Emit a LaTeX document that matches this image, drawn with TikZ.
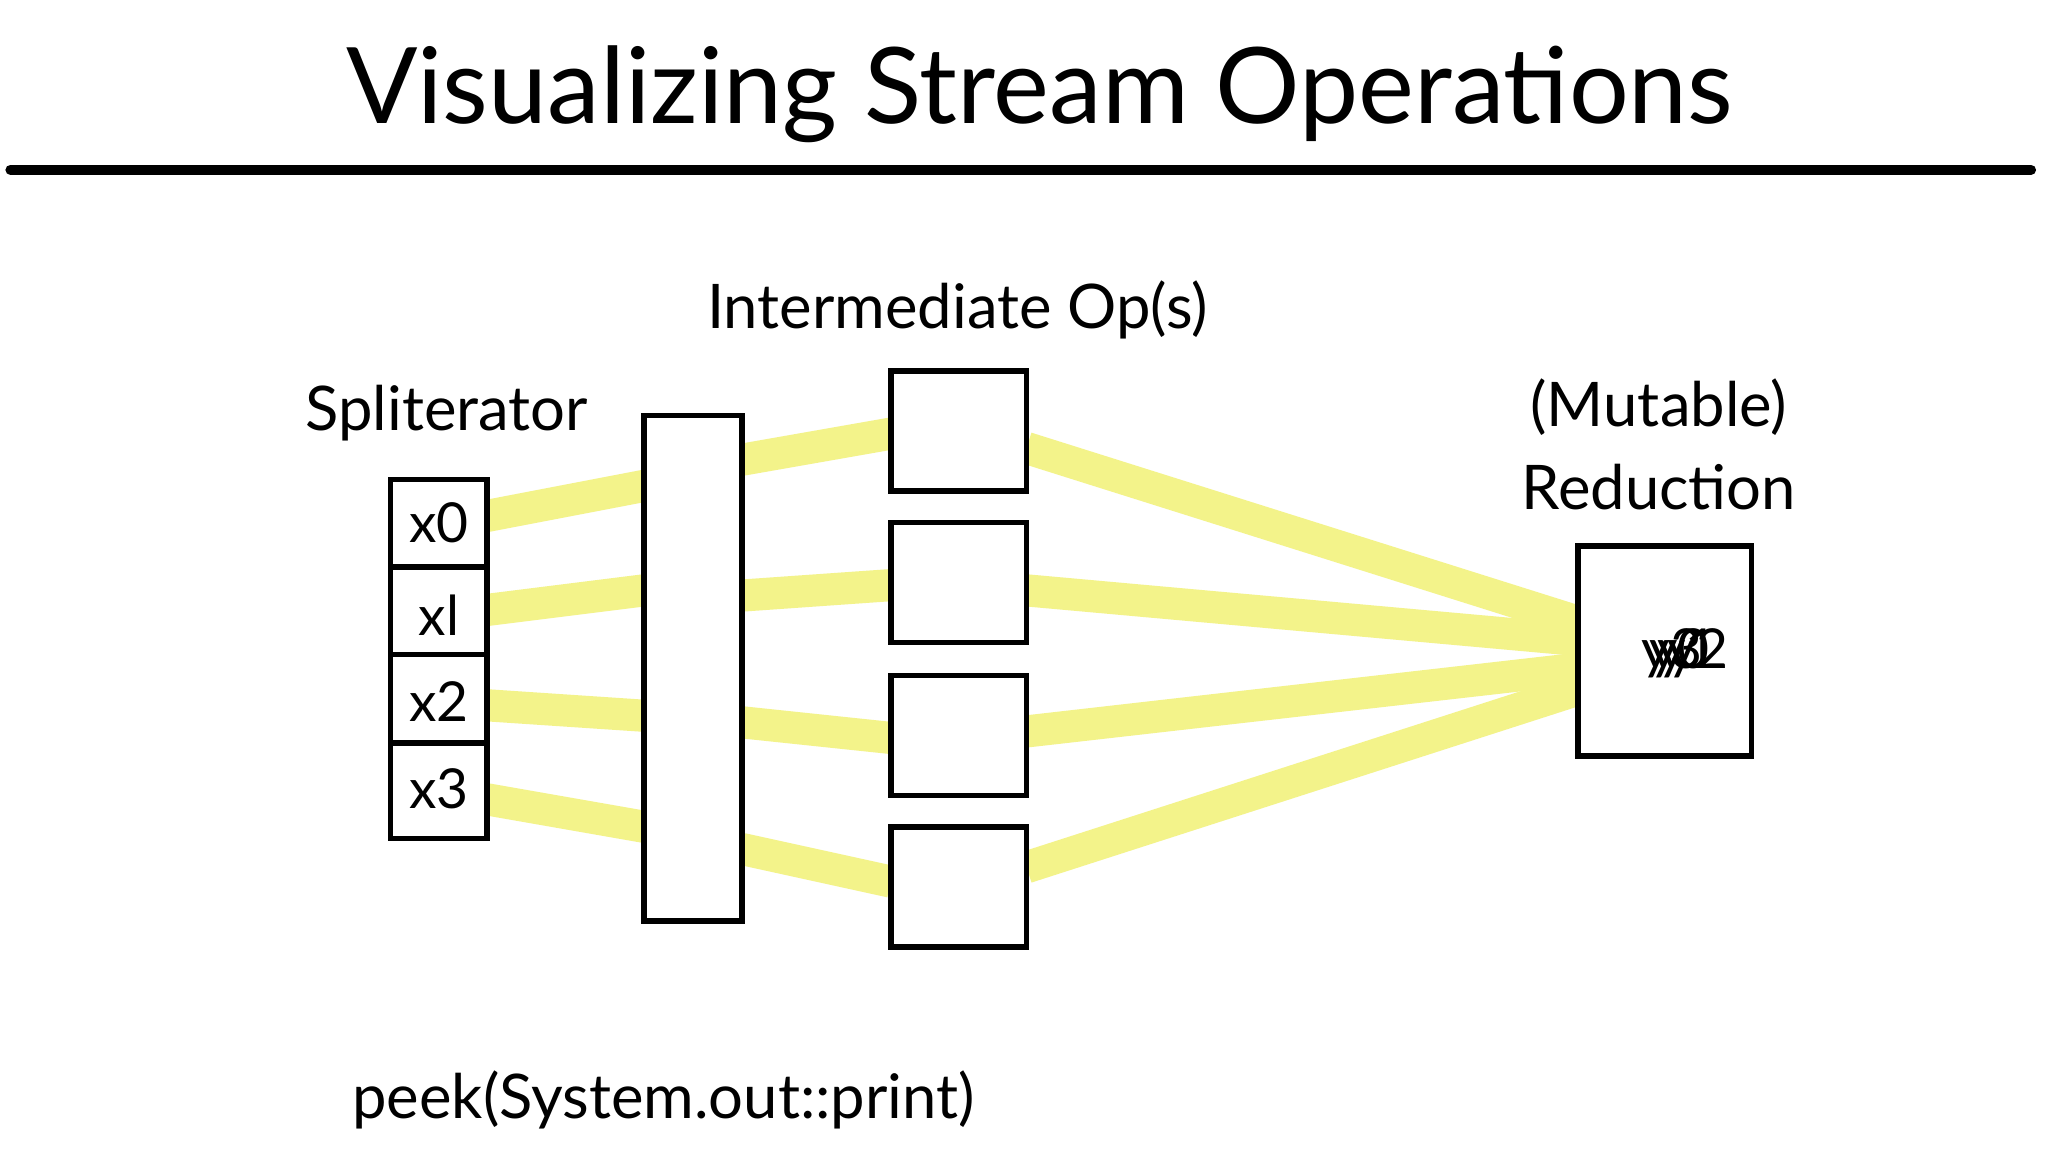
\documentclass[tikz,border=0pt]{standalone}
\usepackage{fontspec}
\setmainfont{Lato}
\definecolor{band}{HTML}{F3F38A}
\begin{document}
\begin{tikzpicture}[x=0.01cm,y=-0.01cm,
  bnd/.style={band,line width=7pt},
  lbl/.style={inner sep=0pt,font=\fontsize{13.4}{16}\selectfont},
  cell/.style={inner sep=0pt,font=\fontsize{12}{14}\selectfont}]
\useasboundingbox[fill=white] (0,0) rectangle (1568,882);
\node[inner sep=0pt,font=\fontsize{23}{26}\selectfont] (title) at (796,72) {Visualizing Stream Operations};
\draw[line width=2.2pt,line cap=round] (8,130) -- (1555,130);
\node[lbl] (iop) at (733,237) {Intermediate Op(s)};
\node[lbl] (spl) at (342,316) {Spliterator};
\node[lbl,align=center] (mut) at (1270,340) {(Mutable)\\[2pt]Reduction};
\node[lbl] (peek) at (508,842) {peek(System.out::print)};
\coordinate (a0) at (373,395); \coordinate (a1) at (373,467); \coordinate (a2) at (373,540); \coordinate (a3) at (373,612);
\coordinate (b0) at (493,372); \coordinate (b1) at (493,452); \coordinate (b2) at (493,548); \coordinate (b3) at (493,633);
\coordinate (c0) at (568,352); \coordinate (c1) at (568,456); \coordinate (c2) at (568,553); \coordinate (c3) at (568,650);
\coordinate (d0) at (682,332); \coordinate (d1) at (682,448); \coordinate (d2) at (682,565); \coordinate (d3) at (682,675);
\coordinate (e0) at (786,343); \coordinate (e1) at (786,452); \coordinate (e2) at (786,560); \coordinate (e3) at (786,664);
\coordinate (f0) at (1208,476); \coordinate (f1) at (1208,490); \coordinate (f2) at (1208,512); \coordinate (f3) at (1208,528);
\foreach \i in {0,1,2,3}{
  \draw[bnd] (a\i) -- (b\i);
  \draw[bnd] (c\i) -- (d\i);
  \draw[bnd] (e\i) -- (f\i);
}
\draw[line width=1.2pt,fill=white] (299,367) rectangle (373,642);
\foreach \y in {434,501,569}{\draw[line width=1.2pt] (299,\y) -- (373,\y);}
\node[cell] (x0) at (336,400) {x0};
\node[cell] (x1) at (336,471) {xl};
\node[cell] (x2) at (336,537) {x2};
\node[cell] (x3) at (336,604) {x3};
\draw[line width=1.2pt,fill=white] (493,318) rectangle (568,705);
\foreach \t in {284,400,517,633}{
  \draw[line width=1.2pt,fill=white] (682,\t) rectangle (786,\t+92);
}
\draw[line width=1.2pt,fill=white] (1208,418) rectangle (1341,579);
\node[cell] (y3) at (1280,500) {y3};
\node[cell] (y0) at (1286,500) {y0};
\node[cell] (y1) at (1292,500) {y1};
\node[cell] (y2) at (1300,500) {y2};
\end{tikzpicture}
\end{document}
